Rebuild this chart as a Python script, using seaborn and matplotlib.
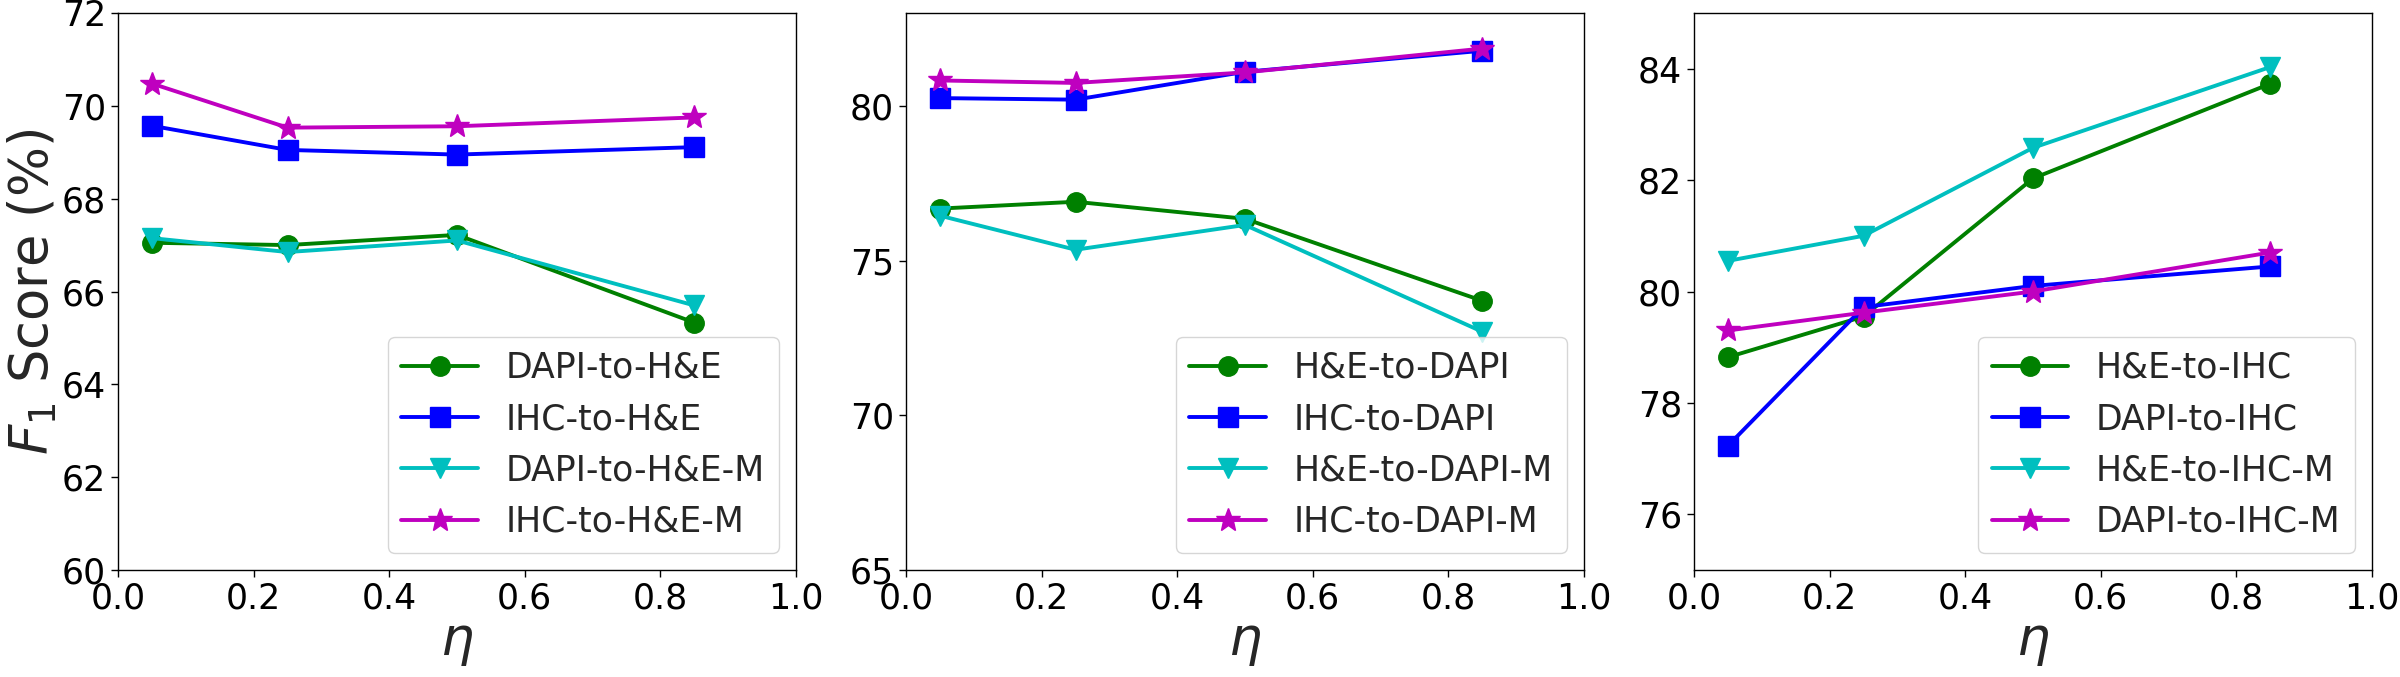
import numpy as np
import pandas as pd
import matplotlib
matplotlib.use("Agg")
import matplotlib.pyplot as plt
import seaborn as sns

sns.set_style("ticks", {"axes.edgecolor": "black", "xtick.color": "black", "ytick.color": "black"})
plt.rcParams['font.family'] = ['DejaVu Sans']
plt.rcParams['mathtext.fontset'] = 'dejavusans'

# ------------------------------------------------------------------
# data
# ------------------------------------------------------------------
eta = [0.05, 0.25, 0.5, 0.85]

# panel 1: target H&E
he_labels = ['DAPI-to-H&E', 'IHC-to-H&E', 'DAPI-to-H&E-M', 'IHC-to-H&E-M']
he_dapi = [67.05, 67.00, 67.22, 65.33]
he_ihc = [69.57, 69.05, 68.95, 69.11]
he_dapi_m = [67.15, 66.85, 67.10, 65.70]
he_ihc_m = [70.48, 69.53, 69.56, 69.75]

# panel 2: target DAPI
dapi_labels = ['H&E-to-DAPI', 'IHC-to-DAPI', 'H&E-to-DAPI-M', 'IHC-to-DAPI-M']
dapi_he = [76.68, 76.90, 76.35, 73.70]
dapi_ihc = [80.25, 80.20, 81.10, 81.78]
dapi_he_m = [76.45, 75.35, 76.15, 72.70]
dapi_ihc_m = [80.82, 80.74, 81.08, 81.85]

# panel 3: target IHC
ihc_labels = ['H&E-to-IHC', 'DAPI-to-IHC', 'H&E-to-IHC-M', 'DAPI-to-IHC-M']
ihc_he = [78.82, 79.55, 82.03, 83.73]
ihc_dapi = [77.23, 79.72, 80.10, 80.45]
ihc_he_m = [80.55, 81.00, 82.58, 84.03]
ihc_dapi_m = [79.30, 79.62, 80.00, 80.70]

colors = ['g', 'b', 'c', 'm']
markers = ['o', 's', 'v', '*']

panels = [
    (he_labels, [he_dapi, he_ihc, he_dapi_m, he_ihc_m], (60, 72), np.arange(60, 73, 2)),
    (dapi_labels, [dapi_he, dapi_ihc, dapi_he_m, dapi_ihc_m], (65, 83), np.arange(65, 81, 5)),
    (ihc_labels, [ihc_he, ihc_dapi, ihc_he_m, ihc_dapi_m], (75, 85), np.arange(76, 85, 2)),
]

# ------------------------------------------------------------------
# plot
# ------------------------------------------------------------------
fig = plt.figure(figsize=(24, 6.77), dpi=100)
lefts = [118, 906, 1694]
axes = [fig.add_axes([l / 2400, 107 / 677, 678 / 2400, 557 / 677]) for l in lefts]

for ax, (labels, series, ylim, yticks) in zip(axes, panels):
    for lab, vals, c, mk in zip(labels, series, colors, markers):
        df = pd.DataFrame({'eta': eta, 'f1': vals})
        ms = 18 if mk == '*' else 14
        sns.lineplot(data=df, x='eta', y='f1', ax=ax, color=c, marker=mk,
                     markersize=ms, markeredgecolor=c, markeredgewidth=1,
                     linewidth=2.8, label=lab)
    ax.set_xlim(0, 1)
    ax.set_ylim(*ylim)
    ax.set_xticks(np.arange(0, 1.01, 0.2))
    ax.set_yticks(yticks)
    ax.tick_params(labelsize=25, length=5, width=1)
    for s in ax.spines.values():
        s.set_linewidth(1)
    ax.set_xlabel(r'$\eta$', fontsize=38, labelpad=0)
    ax.set_ylabel('')
    ax.legend(loc='lower right', fontsize=25, framealpha=0.8, handlelength=2.2)

axes[0].set_ylabel(r'$F_1$ Score (%)', fontsize=38, labelpad=2)

plt.savefig('out.png', dpi=100)
